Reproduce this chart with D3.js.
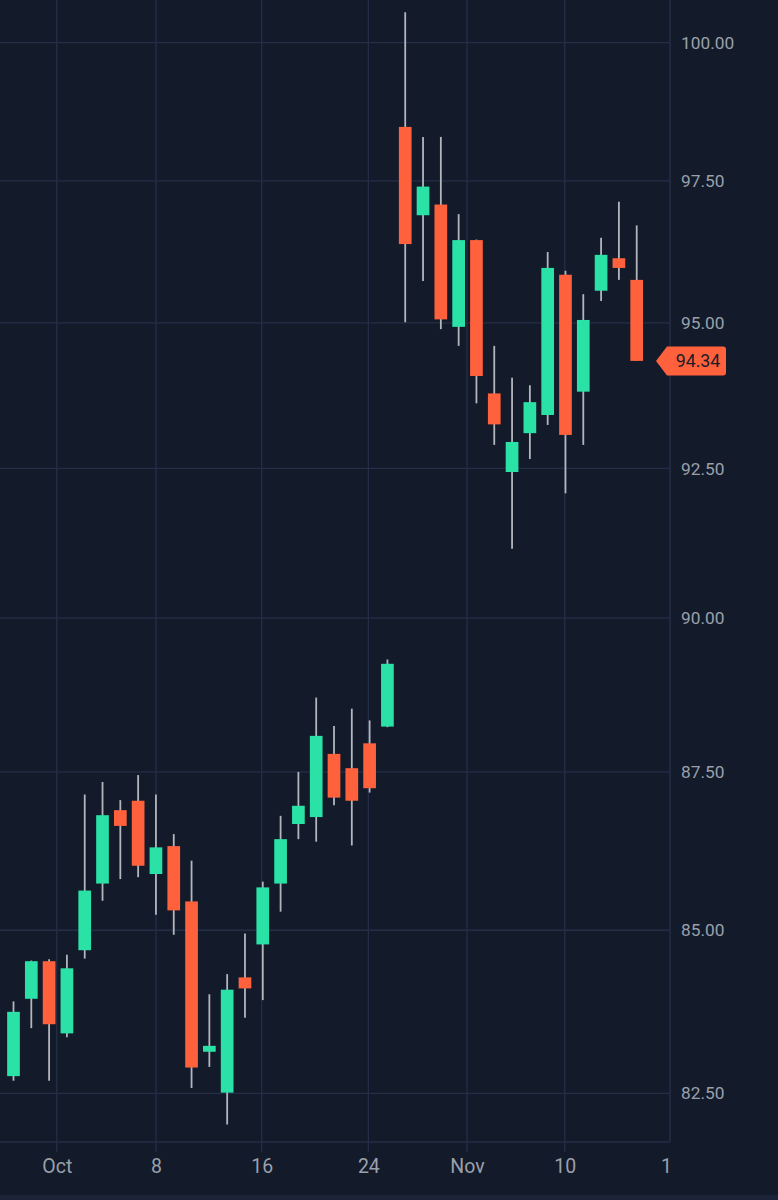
<!DOCTYPE html>
<html><head><meta charset="utf-8">
<script src="https://cdn.jsdelivr.net/npm/d3@7/dist/d3.min.js"></script>
<style>html,body{margin:0;padding:0;background:#131a2a;}svg{display:block}</style>
</head><body><svg id="c" width="778" height="1200"></svg>
<script>
// Daily candles (index order)
const openV  = [82.76,83.94,84.52,83.41,84.69,85.73,86.89,87.04,85.88,86.32,85.45,83.13,82.51,84.27,84.78,85.73,86.67,86.78,87.79,87.56,87.96,88.23,98.47,96.89,97.08,94.93,96.45,93.78,92.44,93.10,93.41,95.84,93.81,95.56,96.13,95.75];
const highV  = [83.90,84.53,84.55,84.62,87.14,87.34,87.05,87.45,87.14,86.51,86.09,84.01,84.32,84.95,85.76,86.80,87.50,88.70,88.24,88.52,88.33,89.32,100.56,98.29,98.29,96.91,96.46,94.60,94.05,93.92,96.24,95.91,95.50,96.49,97.13,96.71];
const lowV   = [82.69,83.49,82.69,83.35,84.56,85.46,85.80,85.83,85.24,84.93,82.58,82.90,82.03,83.65,83.92,85.29,86.43,86.39,86.97,86.33,87.17,88.22,95.01,95.73,94.89,94.60,93.61,92.90,91.15,92.66,93.24,92.08,92.90,95.38,95.75,94.34];
const closeV = [83.74,84.52,83.55,84.41,85.62,86.81,86.64,86.01,86.30,85.31,82.89,83.22,84.08,84.10,85.67,86.43,86.96,88.08,87.09,87.04,87.24,89.25,96.38,97.40,95.06,96.45,94.08,93.25,92.95,93.63,95.96,93.07,95.05,96.19,95.96,94.34];
// Axis ticks
const yTicks = [82.5,85,87.5,90,92.5,95,97.5,100];
const xTickLabels = ["Oct","8","16","24","Nov","10","1"];
const xTickPos = [2.43,8,13.94,19.93,25.47,30.96,36.65];
const lastPrice = 94.34;

const W=778,H=1200, plotR=670, plotB=1142;
const svg=d3.select("#c");
svg.append("rect").attr("width",W).attr("height",H).attr("fill","#131a2a");
svg.append("rect").attr("y",1195).attr("width",W).attr("height",5).attr("fill","#1a2337");

const x=d3.scaleLinear().domain([-0.758,36.87]).range([0,plotR]);
const y=d3.scaleLog().domain([82.5,100]).range([1093.3,42.7]);
const grid="#242e47";

// horizontal grid
svg.append("g").selectAll("line").data(yTicks).join("line")
  .attr("x1",0).attr("x2",plotR).attr("y1",d=>y(d)).attr("y2",d=>y(d))
  .attr("stroke",grid).attr("stroke-width",1.3);
// vertical grid
svg.append("g").selectAll("line").data(xTickPos.slice(0,-1)).join("line")
  .attr("x1",d=>x(d)).attr("x2",d=>x(d)).attr("y1",0).attr("y2",1152)
  .attr("stroke",grid).attr("stroke-width",1.3);
// border
svg.append("line").attr("x1",0).attr("x2",plotR).attr("y1",plotB).attr("y2",plotB).attr("stroke",grid).attr("stroke-width",1.5);
svg.append("line").attr("x1",plotR).attr("x2",plotR).attr("y1",0).attr("y2",plotB).attr("stroke",grid).attr("stroke-width",1.5);

// y axis labels
const ya=svg.append("g").attr("transform",`translate(${plotR},0)`)
  .call(d3.axisRight(y).tickValues(yTicks).tickFormat(d=>d.toFixed(2)).tickSize(0).tickPadding(11));
ya.select(".domain").remove();
ya.selectAll("text").attr("fill","#9aa0ab").style("font-family","Roboto").style("font-size","17.3px");

// x axis labels
const xa=svg.append("g").attr("transform",`translate(0,${plotB})`)
  .call(d3.axisBottom(x).tickValues(xTickPos).tickFormat((d,i)=>xTickLabels[i]).tickSize(0).tickPadding(17));
xa.select(".domain").remove();
xa.selectAll("text").attr("fill","#9aa0ab").style("font-family","Roboto").style("font-size","19.5px");

// candles
const idx=d3.range(openV.length);
const up="#2ae2a6", dn="#ff613c";
const bw=12.7;
svg.append("g").selectAll("line").data(idx).join("line")
  .attr("x1",i=>x(i)).attr("x2",i=>x(i)).attr("y1",i=>y(highV[i])).attr("y2",i=>y(lowV[i]))
  .attr("stroke","#b3b6bd").attr("stroke-width",1.8);
svg.append("g").selectAll("rect").data(idx).join("rect")
  .attr("x",i=>x(i)-bw/2).attr("width",bw)
  .attr("y",i=>y(Math.max(openV[i],closeV[i])))
  .attr("height",i=>Math.max(2,y(Math.min(openV[i],closeV[i]))-y(Math.max(openV[i],closeV[i]))))
  .attr("fill",i=>closeV[i]>=openV[i]?up:dn);

// last price tag
const ly=y(lastPrice);
const tg=svg.append("g");
tg.append("path").attr("d",`M656,${ly} L667,${ly-14.5} L723,${ly-14.5} Q726,${ly-14.5} 726,${ly-11.5} L726,${ly+11.5} Q726,${ly+14.5} 723,${ly+14.5} L667,${ly+14.5} Z`).attr("fill",dn);
tg.append("text").attr("x",698).attr("y",ly).attr("dy","0.36em").attr("text-anchor","middle")
  .attr("fill","#1a1d26").style("font-family","Roboto").style("font-size","17.8px").text(lastPrice.toFixed(2));
</script></body></html>
